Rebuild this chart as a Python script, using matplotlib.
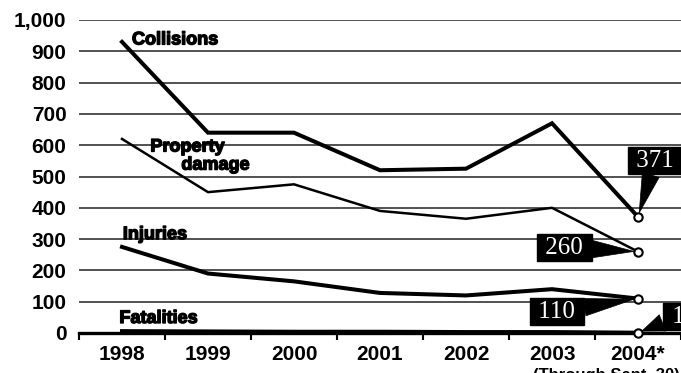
import matplotlib
matplotlib.use("Agg")
import matplotlib.pyplot as plt
from matplotlib.ticker import FuncFormatter, FixedLocator
import matplotlib.patheffects as pe

years = ['1998', '1999', '2000', '2001', '2002', '2003', '2004*']
collisions = [930, 640, 640, 520, 525, 670, 371]
property_damage = [620, 450, 475, 390, 365, 400, 260]
injuries = [275, 190, 165, 128, 120, 140, 110]
fatalities = [6, 5, 4, 4, 3, 3, 1]
last_labels = ['371', '260', '110', '1']

fig = plt.figure(figsize=(6.81, 3.73), dpi=100)
ax = fig.add_axes([79/681, 40/373, 602/681, 313/373])

x = list(range(len(years)))
ax.set_xlim(-0.5, len(years) - 0.5)
ax.set_ylim(0, 1000)

# grid
ax.set_yticks(range(0, 1001, 100))
ax.yaxis.grid(True, color='#222222', linewidth=1.1)
ax.set_axisbelow(True)
ax.yaxis.set_major_formatter(FuncFormatter(lambda v, p: f'{int(v):,}'))
ax.tick_params(axis='y', length=0, pad=9, labelsize=15)
for lab in ax.get_yticklabels():
    lab.set_fontfamily('Liberation Sans')
    lab.set_fontweight('bold')

ax.set_xticks(x)
ax.set_xticklabels(years, fontfamily='Liberation Sans', fontweight='bold', fontsize=15)
ax.xaxis.set_minor_locator(FixedLocator([i - 0.5 for i in range(len(years) + 1)]))
ax.tick_params(axis='x', which='major', length=0, pad=9)
ax.tick_params(axis='x', which='minor', length=5, width=1.5, direction='out', color='black')

for s in ['left', 'right', 'top']:
    ax.spines[s].set_visible(False)
ax.spines['bottom'].set_linewidth(2.4)
ax.spines['bottom'].set_zorder(4)

ax.plot(x, collisions, color='black', lw=2.9, solid_joinstyle='miter', zorder=3)
ax.plot(x, property_damage, color='black', lw=1.8, zorder=3)
ax.plot(x, injuries, color='black', lw=2.9, zorder=3)
ax.plot(x, fatalities, color='black', lw=2.9, zorder=3, clip_on=False)

last = [collisions[-1], property_damage[-1], injuries[-1], fatalities[-1]]
ax.plot([x[-1]] * 4, last, linestyle='none', marker='o', markersize=6,
        markerfacecolor='white', markeredgecolor='black', markeredgewidth=1.5,
        zorder=6, clip_on=False)

# series labels
lab_kw = dict(fontfamily='Liberation Sans', fontweight='bold', fontsize=13, color='black',
              va='baseline', ha='left', zorder=7,
              path_effects=[pe.withStroke(linewidth=1.0, foreground='black')])
ax.text(0.116, 922, 'Collisions', **lab_kw)
ax.text(0.33, 580, 'Property', **lab_kw)
ax.text(0.69, 522, 'damage', **lab_kw)
ax.text(0.01, 300, 'Injuries', **lab_kw)
ax.text(-0.03, 32, 'Fatalities', **lab_kw)

# callouts
offsets = [(17, 56), (-74, 4), (-81, -13), (40, 16)]
for lbl, val, off in zip(last_labels, last, offsets):
    ax.annotate(' ' + lbl + ' ', xy=(x[-1], val), xytext=off, textcoords='offset pixels',
                ha='center', va='center', color='white', fontfamily='Liberation Serif',
                fontsize=18, annotation_clip=False, zorder=8,
                bbox=dict(boxstyle='square,pad=0.1', fc='black', ec='black'),
                arrowprops=dict(arrowstyle='wedge,tail_width=0.7,shrink_factor=0.5',
                                fc='black', ec='black', lw=0.5, shrinkA=0, shrinkB=3))

fig.text(533/681, 1 - 368/373, '(Through Sept. 30)', fontfamily='Liberation Sans',
         fontweight='bold', fontsize=12, va='top', ha='left')

fig.savefig('out.png', dpi=100, facecolor='white')
